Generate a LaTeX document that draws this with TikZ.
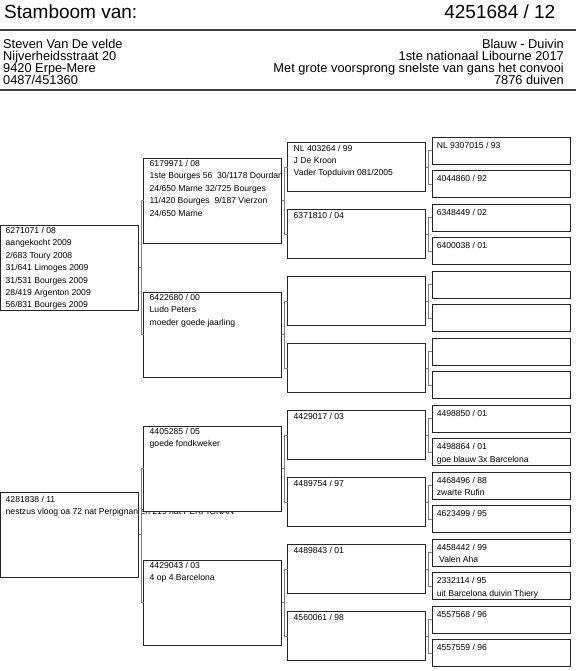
\documentclass[tikz,border=0pt]{standalone}
\usepackage{fontspec}
\setmainfont{Liberation Sans}
\tikzset{
  box/.style={rectangle, draw=black!85, line width=0.9pt, fill=white, minimum width=138pt, inner sep=0pt, outer sep=0pt},
  info/.style={anchor=north west, inner sep=0pt, align=left, font=\fontsize{8.6}{12.4}\selectfont},
  link/.style={draw=black!50, line width=0.6pt},
  rule/.style={draw=black!75, line width=1.2pt},
  head/.style={inner sep=0pt, font=\fontsize{19}{22}\selectfont},
  addr/.style={inner sep=0pt, font=\fontsize{12.8}{12}\selectfont}
}
\begin{document}
\begin{tikzpicture}[x=1pt,y=-1pt]
    \useasboundingbox (0,0) rectangle (576,671);

    % kop
    \node[head,anchor=base west] (title) at (4,18.5) {Stamboom van:};
    \node[head,anchor=base east] (ring) at (555.5,18.5) {4251684 / 12};
    \draw[rule] (0,30) -- (576,30);
    \draw[rule] (0,90) -- (576,90);

    \foreach \y/\t [count=\i] in {48.5/{Steven Van De velde}, 60.5/{Nijverheidsstraat 20},
        72.5/{9420 Erpe-Mere}, 84.4/{0487/451360}}
        \node[addr,anchor=base west] (owner\i) at (3,\y) {\t};
    \foreach \y/\t [count=\i] in {48.5/{Blauw - Duivin}, 60.5/{1ste nationaal Libourne 2017~},
        72.5/{Met grote voorsprong snelste van gans het convooi}, 84.4/{7876 duiven}}
        \node[addr,anchor=base east] (pigeon\i) at (564,\y) {\t};

    % ouders
    \foreach \i in {0,1}
        \node[box,minimum height=85pt] (par\i) at (69.5,267.5+267*\i) {};
    \node[info,xshift=5pt,yshift=-2.1pt] (par0 txt) at (par0.north west)
        {6271071 / 08\\aangekocht 2009\\2/683 Toury 2008\\31/641 Limoges 2009\\31/531 Bourges 2009\\28/419 Argenton 2009\\56/831 Bourges 2009};
    \node[info,xshift=5pt,yshift=-3.7pt] (par1 txt) at (par1.north west)
        {4281838 / 11\\nestzus vloog oa 72 nat Perpignan en 219 nat PERPIGNAN};

    % grootouders
    \foreach \i in {0,...,3}
        \node[box,minimum height=85pt] (gp\i) at (212.5,200.5+134*\i) {};
    \foreach \i/\t in {0/{6179971 / 08\\1ste Bourges 56\ \ 30/1178 Dourdan\\24/650 Marne 32/725 Bourges\\11/420 Bourges\ \ 9/187 Vierzon\\24/650 Marne},
        1/{6422680 / 00\\Ludo Peters\\moeder goede jaarling},
        2/{4405285 / 05\\goede fondkweker},
        3/{4429043 / 03\\4 op 4 Barcelona}} {
        \begin{scope}
            \clip (gp\i.north west) rectangle (gp\i.south east);
            \node[info,xshift=6pt,yshift=-2.1pt] (gp\i txt) at (gp\i.north west) {\t};
        \end{scope}
    }

    % overgrootouders
    \foreach \i in {0,...,7}
        \node[box,minimum height=49pt] (ggp\i) at (356.5,167+67*\i) {};
    \foreach \i/\t in {0/{NL 403264 / 99\\J De Kroon\\Vader Topduivin 081/2005}, 1/{6371810 / 04},
        4/{4429017 / 03}, 5/{4489754 / 97}, 6/{4489843 / 01}, 7/{4560061 / 98}}
        \node[info,xshift=6pt,yshift=-2.1pt] (ggp\i txt) at (ggp\i.north west) {\t};

    % betovergrootouders
    \foreach \i in {0,...,15}
        \node[box,minimum height=27pt] (gggp\i) at (501,150.5+33.5*\i) {};
    \foreach \i/\t in {0/{NL 9307015 / 93}, 1/{4044860 / 92}, 2/{6348449 / 02}, 3/{6400038 / 01},
        8/{4498850 / 01}, 9/{4498864 / 01\\goe blauw 3x Barcelona}, 10/{4468496 / 88\\zwarte Rufin},
        11/{4623499 / 95}, 12/{4458442 / 99\\\hspace*{2.4pt}Valen Aha}, 13/{2332114 / 95\\uit Barcelona duivin Thiery},
        14/{4557568 / 96}, 15/{4557559 / 96}}
        \node[info,xshift=4.6pt,yshift=-4.9pt] (gggp\i txt) at (gggp\i.north west) {\t};

    % lijnen tussen ouder en jongen
    \foreach \p/\c/\n/\g in {par/gp/1/2.5, gp/ggp/3/3, ggp/gggp/7/3.25}
        \foreach \j in {0,...,\n} {
            \pgfmathtruncatemacro\kidA{2*\j}
            \pgfmathtruncatemacro\kidB{2*\j+1}
            \draw[link] (\p\j.east) -- ++(\g,0) coordinate (k) (k) |- (\c\kidA.west) (k) |- (\c\kidB.west);
        }
\end{tikzpicture}
\end{document}
